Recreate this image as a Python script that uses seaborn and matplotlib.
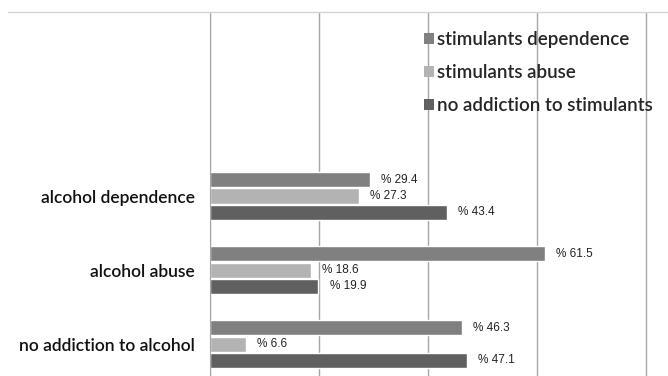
import matplotlib
matplotlib.use("Agg")
import matplotlib.pyplot as plt
from matplotlib.lines import Line2D
from matplotlib.patches import Patch
import seaborn as sns
import pandas as pd

# Alcohol categories (rows) and stimulant groups (bars within a row)
alcohol_groups = ["alcohol dependence", "alcohol abuse", "no addiction to alcohol"]
stimulant_groups = ["stimulants dependence", "stimulants abuse", "no addiction to stimulants"]
stim_dependence = [29.4, 61.5, 46.3]
stim_abuse = [27.3, 18.6, 6.6]
stim_none = [43.4, 19.9, 47.1]

colors = ["#808080", "#b3b3b3", "#606060"]

rows = []
for series, vals in zip(stimulant_groups, [stim_dependence, stim_abuse, stim_none]):
    for cat, v in zip(alcohol_groups, vals):
        rows.append({"alcohol": cat, "stimulants": series, "percent": v})
df = pd.DataFrame(rows)

sns.set_style("white")
W, H = 668, 376
fig = plt.figure(figsize=(W / 100, H / 100), dpi=100)
ax = fig.add_axes([210 / W, 0, (W - 210) / W, (H - 12) / H])

sns.barplot(data=df, y="alcohol", x="percent", hue="stimulants",
            order=alcohol_groups, hue_order=stimulant_groups,
            palette=colors, width=0.66, gap=0.1, orient="h",
            legend=False, ax=ax, saturation=1)
# bars come out thinner than their slot; widen them back to ~15 px each
for cont in ax.containers:
    for b in cont:
        cy = b.get_y() + b.get_height() / 2
        b.set_height(0.205)
        b.set_y(cy - 0.1025)

ax.set_xlim(0, (W - 210) / 5.45)
ax.set_ylim(2.43, -2.486)
ax.set_xticks([0, 20, 40, 60, 80])
ax.xaxis.grid(True, color="#a6a6a6", linewidth=1.0)
ax.set_axisbelow(True)
for s in ["top", "right", "bottom"]:
    ax.spines[s].set_visible(False)
ax.spines["left"].set_color("#a6a6a6")
ax.tick_params(axis="x", which="both", bottom=False, labelbottom=False)
ax.tick_params(axis="y", length=0, pad=11)
ax.set_xlabel("")
ax.set_ylabel("")
for lbl in ax.get_yticklabels():
    lbl.set_fontfamily("Lato")
    lbl.set_fontsize(12.5)
    lbl.set_fontweight("semibold")
    lbl.set_color("#111111")

# value labels, "%" written before the number
for cont in ax.containers:
    ax.bar_label(cont, labels=[f"% {b.get_width():.1f}" for b in cont],
                 padding=8, fontsize=8.5, family="Liberation Sans", color="#222222")

# thin rule along the top of the chart
fig.add_artist(Line2D([8 / W, 1], [(H - 12) / H] * 2, color="#d4d4d4", linewidth=1))

handles = [Patch(facecolor=c, edgecolor="none") for c in colors]
leg = fig.legend(handles, stimulant_groups, loc="upper left",
                 bbox_to_anchor=(424 / W, 1 - 31 / H), frameon=False,
                 prop={"family": "Lato", "size": 13.5, "weight": "semibold"},
                 handlelength=0.55, handleheight=0.55, handletextpad=0.12,
                 labelspacing=0.85, borderpad=0, borderaxespad=0)

fig.savefig("out.png", dpi=100)
